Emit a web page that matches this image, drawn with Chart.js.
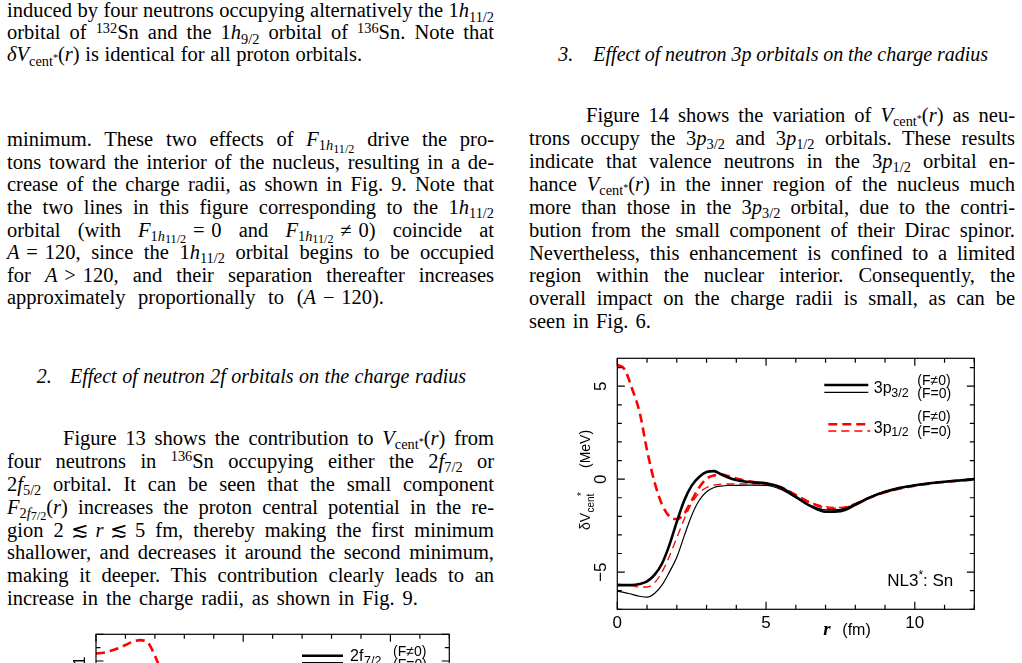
<!DOCTYPE html>
<html>
<head>
<meta charset="utf-8">
<script src="https://cdn.jsdelivr.net/npm/chart.js@4.4.1/dist/chart.umd.min.js"></script>
<style>
html, body { margin: 0; padding: 0; background: #fff; }
body { width: 1022px; height: 663px; overflow: hidden; position: relative; }
.ln { position: absolute; white-space: nowrap; font: 20.5px 'Liberation Serif', serif; line-height: 21px; color: #000; }
.hd { font-style: italic; font-size: 20px; }
sub, sup { font-size: 70%; line-height: 0; position: relative; vertical-align: baseline; }
sub { top: 0.3em; }
sup { top: -0.45em; }
sub sub { font-size: 85%; top: 0.2em; }
canvas { position: absolute; }
</style>
</head>
<body>
<canvas id="fig14" width="450" height="310" style="left:555px;top:345px"></canvas>
<canvas id="fig13" width="410" height="300" style="left:60px;top:625px"></canvas>
<script>
// ---- Fig. 14 data : delta V_cent* (MeV) vs r (fm), NL3*, Sn ----
const rVals = [0, 0.25, 0.5, 0.75, 1, 1.25, 1.5, 1.75, 2, 2.25, 2.5, 2.75, 3, 3.25, 3.5, 3.75, 4,
  4.5, 5, 5.5, 6, 6.5, 7, 7.5, 8, 8.5, 9, 9.5, 10, 10.5, 11, 11.5, 12];
const p32Fne0 = [-5.70, -5.70, -5.70, -5.64, -5.50, -5.15, -4.55, -3.55, -2.30, -1.15, -0.35, 0.12, 0.38, 0.43, 0.25, 0.08, -0.05,
  -0.17, -0.22, -0.45, -0.95, -1.45, -1.75, -1.72, -1.38, -0.98, -0.68, -0.47, -0.33, -0.22, -0.14, -0.07, 0.00];
const p32F0 = [-6.02, -6.10, -6.20, -6.30, -6.35, -6.15, -5.70, -5.00, -4.20, -3.05, -1.95, -1.15, -0.68, -0.45, -0.37, -0.34, -0.33,
  -0.32, -0.33, -0.55, -1.00, -1.42, -1.65, -1.63, -1.33, -0.95, -0.66, -0.46, -0.32, -0.21, -0.13, -0.06, 0.00];
const p12Fne0 = [6.15, 5.90, 4.85, 3.60, 1.55, -0.15, -1.35, -2.00, -2.15, -1.85, -1.15, -0.45, 0.02, 0.20, 0.25, 0.16, 0.03,
  -0.13, -0.25, -0.43, -0.85, -1.28, -1.55, -1.60, -1.36, -0.98, -0.70, -0.50, -0.35, -0.24, -0.15, -0.08, -0.02];
const p12F0 = [-5.66, -5.68, -5.73, -5.80, -5.80, -5.58, -5.00, -4.15, -3.15, -2.15, -1.30, -0.75, -0.45, -0.32, -0.27, -0.26, -0.25,
  -0.25, -0.27, -0.45, -0.85, -1.25, -1.48, -1.52, -1.30, -0.95, -0.68, -0.48, -0.34, -0.23, -0.15, -0.08, -0.02];
const xTickValues = [0, 5, 10];
const xTickLabels = ['0', '5', '10'];
const yTickValues = [5, 0, -5];
const yTickLabels = ['5', '0', '\u22125'];

// ---- Fig. 13 (only its top edge is on the page) ----
const r13 = [0, 0.25, 0.5, 0.75, 1, 1.25, 1.5, 1.75, 2, 2.25, 2.5];
const f72Fne0 = [1.28, 1.31, 1.38, 1.48, 1.60, 1.72, 1.78, 1.70, 1.20, 0.50, -0.20];
const y13TickValues = [1];
const y13TickLabels = ['1'];

// ---- text of the page ----  (\u2004 = fixed math space, not stretched)
const M = '\u2004';
const paragraphs = [
  { x: 7, w: 487, base: 17.8, pitch: 22, indent: 0, last: 355, lines: [
    'induced by four neutrons occupying alternatively the 1<i>h</i><sub>11/2</sub>',
    'orbital of <sup>132</sup>Sn and the 1<i>h</i><sub>9/2</sub> orbital of <sup>136</sup>Sn. Note that',
    '<i>δV</i><sub>cent<sup>*</sup></sub>(<i>r</i>) is identical for all proton orbitals.'] },
  { x: 7, w: 487, base: 146.5, pitch: 22.6, indent: 0, last: 377, lines: [
    'minimum. These two effects of <i>F</i><sub>1<i>h</i><sub>11/2</sub></sub> drive the pro-',
    'tons toward the interior of the nucleus, resulting in a de-',
    'crease of the charge radii, as shown in Fig. 9. Note that',
    'the two lines in this figure corresponding to the 1<i>h</i><sub>11/2</sub>',
    `orbital (with <i>F</i><sub>1<i>h</i><sub>11/2</sub></sub>${M}=${M}0 and <i>F</i><sub>1<i>h</i><sub>11/2</sub></sub>${M}≠${M}0) coincide at`,
    `<i>A</i>${M}=${M}120, since the 1<i>h</i><sub>11/2</sub> orbital begins to be occupied`,
    `for <i>A</i>${M}&gt;${M}120, and their separation thereafter increases`,
    `approximately proportionally to (<i>A</i>${M}−${M}120).`] },
  { x: 36.7, w: 12, base: 383.5, pitch: 0, indent: 0, last: 12, hd: true, lines: ['2.'] },
  { x: 70, w: 396, base: 383.5, pitch: 0, indent: 0, last: 396, hd: true, lines: [
    'Effect of neutron 2<i>f</i> orbitals on the charge radius'] },
  { x: 7, w: 487, base: 445.5, pitch: 22.85, indent: 56, last: 411, lines: [
    'Figure 13 shows the contribution to <i>V</i><sub>cent<sup>*</sup></sub>(<i>r</i>) from',
    'four neutrons in <sup>136</sup>Sn occupying either the 2<i>f</i><sub>7/2</sub> or',
    '2<i>f</i><sub>5/2</sub> orbital. It can be seen that the small component',
    '<i>F</i><sub>2<i>f</i><sub>7/2</sub></sub>(<i>r</i>) increases the proton central potential in the re-',
    `gion 2${M}≲${M}<i>r</i>${M}≲${M}5 fm, thereby making the first minimum`,
    'shallower, and decreases it around the second minimum,',
    'making it deeper. This contribution clearly leads to an',
    'increase in the charge radii, as shown in Fig. 9.'] },
  { x: 558.3, w: 13, base: 61.7, pitch: 0, indent: 0, last: 13, hd: true, lines: ['3.'] },
  { x: 593.3, w: 394.7, base: 61.7, pitch: 0, indent: 0, last: 394.7, hd: true, lines: [
    'Effect of neutron 3<i>p</i> orbitals on the charge radius'] },
  { x: 529, w: 486, base: 122.5, pitch: 22.9, indent: 57, last: 122, lines: [
    'Figure 14 shows the variation of <i>V</i><sub>cent<sup>*</sup></sub>(<i>r</i>) as neu-',
    'trons occupy the 3<i>p</i><sub>3/2</sub> and 3<i>p</i><sub>1/2</sub> orbitals. These results',
    'indicate that valence neutrons in the 3<i>p</i><sub>1/2</sub> orbital en-',
    'hance <i>V</i><sub>cent<sup>*</sup></sub>(<i>r</i>) in the inner region of the nucleus much',
    'more than those in the 3<i>p</i><sub>3/2</sub> orbital, due to the contri-',
    'bution from the small component of their Dirac spinor.',
    'Nevertheless, this enhancement is confined to a limited',
    'region within the nuclear interior. Consequently, the',
    'overall impact on the charge radii is small, as can be',
    'seen in Fig. 6.'] }
];

paragraphs.forEach(p => {
  p.lines.forEach((html, i) => {
    const el = document.createElement('div');
    el.className = 'ln' + (p.hd ? ' hd' : '');
    el.innerHTML = html;
    const ind = i === 0 ? p.indent : 0;
    el.style.left = (p.x + ind) + 'px';
    el.style.top = (p.base + i * p.pitch - 17.4) + 'px';
    document.body.appendChild(el);
    // stretch the spaces so every line ends where it ends on the page
    const target = (i === p.lines.length - 1 ? p.last : p.w) - ind;
    const n = (el.textContent.match(/[ \u00a0]/g) || []).length;
    const w0 = el.getBoundingClientRect().width;
    if (n) el.style.wordSpacing = ((target - w0) / n) + 'px';
  });
});

const RED = '#f00';
const SANS = '"Liberation Sans", Arial, sans-serif';

function pts(xs, ys) { return ys.map((v, i) => ({ x: xs[i], y: v })); }

function rotText(ctx, s, px, py) {
  ctx.save();
  ctx.translate(px, py);
  ctx.rotate(-Math.PI / 2);
  ctx.textAlign = 'center';
  ctx.textBaseline = 'middle';
  ctx.fillText(s, 0, 0);
  ctx.restore();
}

function legLine(ctx, x0, x1, yy, color, width, dash) {
  ctx.save();
  ctx.strokeStyle = color;
  ctx.lineWidth = width;
  ctx.setLineDash(dash);
  ctx.beginPath();
  ctx.moveTo(x0, yy);
  ctx.lineTo(x1, yy);
  ctx.stroke();
  ctx.restore();
}

// box with inward ticks on all four sides, then whatever else the figure needs
function makeFrame(cfg) {
  return {
    id: 'frame',
    afterDatasetsDraw(chart) {
      const ctx = chart.ctx, a = chart.chartArea;
      const x = chart.scales.x, y = chart.scales.y;
      ctx.save();
      ctx.strokeStyle = '#000';
      ctx.lineWidth = 1.2;
      ctx.strokeRect(a.left, a.top, a.right - a.left, a.bottom - a.top);
      ctx.beginPath();
      for (let v = x.min; v <= x.max + 1e-6; v += cfg.xStep) {
        const px = x.getPixelForValue(v);
        const L = Math.abs(v % cfg.xMajor) < 1e-6 ? 7.5 : 4.5;
        ctx.moveTo(px, a.bottom); ctx.lineTo(px, a.bottom - L);
        ctx.moveTo(px, a.top); ctx.lineTo(px, a.top + L);
      }
      for (let v = y.min; v <= y.max + 1e-6; v += cfg.yStep) {
        const py = y.getPixelForValue(v);
        const L = Math.abs(v % cfg.yMajor) < 1e-6 ? 7.5 : 4.5;
        ctx.moveTo(a.left, py); ctx.lineTo(a.left + L, py);
        ctx.moveTo(a.right, py); ctx.lineTo(a.right - L, py);
      }
      ctx.stroke();
      ctx.fillStyle = '#000';
      cfg.draw(ctx, a, x, y);
      ctx.restore();
    }
  };
}

const baseOptions = (pad, xr, yr) => ({
  responsive: false,
  animation: false,
  events: [],
  layout: { padding: pad },
  plugins: { legend: { display: false }, tooltip: { enabled: false } },
  elements: { point: { radius: 0 }, line: { cubicInterpolationMode: 'monotone' } },
  scales: {
    x: { type: 'linear', min: xr[0], max: xr[1], display: false },
    y: { type: 'linear', min: yr[0], max: yr[1], display: false }
  }
});

// ---------- Fig. 14 ----------
new Chart(document.getElementById('fig14'), {
  type: 'line',
  data: {
    datasets: [
      { label: '3p3/2 (F≠0)', data: pts(rVals, p32Fne0), borderColor: '#000', borderWidth: 2.6 },
      { label: '3p3/2 (F=0)', data: pts(rVals, p32F0), borderColor: '#000', borderWidth: 1.2 },
      { label: '3p1/2 (F≠0)', data: pts(rVals, p12Fne0), borderColor: RED, borderWidth: 2.6, borderDash: [9, 5] },
      { label: '3p1/2 (F=0)', data: pts(rVals, p12F0), borderColor: RED, borderWidth: 1.3, borderDash: [8, 5] }
    ]
  },
  options: baseOptions({ left: 62.3, top: 13.3, right: 30.7, bottom: 45.7 }, [0, 12], [-7, 6.5]),
  plugins: [makeFrame({
    xStep: 1, xMajor: 5, yStep: 1, yMajor: 5,
    draw(ctx, a, x, y) {
      ctx.font = '17px ' + SANS;
      ctx.textAlign = 'center';
      ctx.textBaseline = 'middle';
      xTickValues.forEach((v, i) => ctx.fillText(xTickLabels[i], x.getPixelForValue(v), a.bottom + 14));
      yTickValues.forEach((v, i) => rotText(ctx, yTickLabels[i], a.left - 16.3, y.getPixelForValue(v)));

      // axis titles
      ctx.textAlign = 'left';
      ctx.font = 'bold italic 19px "Liberation Serif", serif';
      ctx.fillText('r', a.left + 206, a.bottom + 21);
      ctx.font = '16px ' + SANS;
      ctx.fillText('(fm)', a.left + 225, a.bottom + 21);

      ctx.save();
      ctx.translate(a.left - 27.3, a.bottom - 79.3);
      ctx.rotate(-Math.PI / 2);
      ctx.textBaseline = 'alphabetic';
      ctx.font = '14px ' + SANS;
      ctx.fillText('δV', 0, 0);
      ctx.font = '10px ' + SANS;
      ctx.fillText('cent', 17.5, 3.5);
      ctx.fillText('*', 34, -5);
      ctx.font = '14px ' + SANS;
      ctx.fillText('(MeV)', 62, 0);
      ctx.restore();

      // legend
      ctx.textBaseline = 'alphabetic';
      legLine(ctx, a.right - 150, a.right - 106, a.top + 26.7, '#000', 2.6, []);
      legLine(ctx, a.right - 150, a.right - 106, a.top + 34, '#000', 1.2, []);
      legLine(ctx, a.right - 146, a.right - 106, a.top + 66, RED, 2.6, [9, 5]);
      legLine(ctx, a.right - 146, a.right - 104, a.top + 72.7, RED, 1.3, [8, 5]);
      [[a.top + 35, '3/2', a.top + 22.4, a.top + 36], [a.top + 74.5, '1/2', a.top + 59, a.top + 73.4]].forEach(g => {
        ctx.font = '16px ' + SANS;
        ctx.fillText('3p', a.right - 100.5, g[0]);
        ctx.font = '12.5px ' + SANS;
        ctx.fillText(g[1], a.right - 83, g[0] + 3.5);
        ctx.font = '14px ' + SANS;
        ctx.textBaseline = 'middle';
        ctx.fillText('(F≠0)', a.right - 57, g[2]);
        ctx.fillText('(F=0)', a.right - 57, g[3]);
        ctx.textBaseline = 'alphabetic';
      });

      // NL3*: Sn
      ctx.font = '17px ' + SANS;
      const w1 = ctx.measureText('NL3').width, w3 = ctx.measureText(': Sn').width;
      ctx.font = '12px ' + SANS;
      const w2 = ctx.measureText('*').width;
      const tx = a.right - 21 - (w1 + w2 + w3);
      const ty = a.top + 227.4;
      ctx.font = '17px ' + SANS;
      ctx.fillText('NL3', tx, ty);
      ctx.font = '12px ' + SANS;
      ctx.fillText('*', tx + w1, ty - 6.5);
      ctx.font = '17px ' + SANS;
      ctx.fillText(': Sn', tx + w1 + w2, ty);
    }
  })]
});

// ---------- Fig. 13 (cut by the page edge) ----------
new Chart(document.getElementById('fig13'), {
  type: 'line',
  data: {
    datasets: [
      { label: '2f7/2 (F≠0)', data: pts(r13, f72Fne0), borderColor: RED, borderWidth: 2.6, borderDash: [9, 5] }
    ]
  },
  options: baseOptions({ left: 36, top: 9.3, right: 20.7, bottom: 50.4 }, [0, 12], [-7, 2]),
  plugins: [makeFrame({
    xStep: 1, xMajor: 5, yStep: 0.5, yMajor: 1,
    draw(ctx, a, x, y) {
      ctx.font = '17px ' + SANS;
      y13TickValues.forEach((v, i) => rotText(ctx, y13TickLabels[i], a.left - 15.5, y.getPixelForValue(v)));
      legLine(ctx, a.left + 206, a.left + 247, a.top + 21.4, '#000', 2.6, []);
      legLine(ctx, a.left + 206, a.left + 247, a.top + 28.2, '#000', 1.2, []);
      ctx.textAlign = 'left';
      ctx.textBaseline = 'alphabetic';
      ctx.font = '16px ' + SANS;
      ctx.fillText('2f', a.left + 254, a.top + 27);
      ctx.font = '12.5px ' + SANS;
      ctx.fillText('7/2', a.left + 268, a.top + 30.5);
      ctx.font = '14px ' + SANS;
      ctx.textBaseline = 'middle';
      ctx.fillText('(F≠0)', a.left + 297, a.top + 17.4);
      ctx.fillText('(F=0)', a.left + 297, a.top + 31);
    }
  })]
});
</script>
</body>
</html>
